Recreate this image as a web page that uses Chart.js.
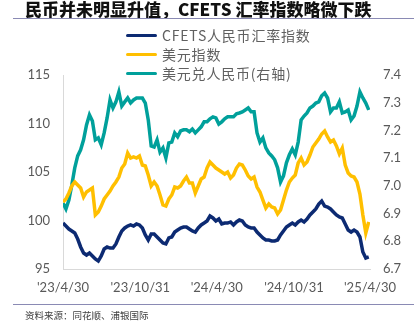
<!DOCTYPE html>
<html>
<head>
<meta charset="utf-8">
<script src="https://cdn.jsdelivr.net/npm/chart.js@4/dist/chart.umd.min.js"></script>
<style>
  html, body { margin: 0; padding: 0; background: #ffffff; }
  #wrap { position: relative; width: 414px; height: 330px; overflow: hidden; background: #fff; }
  #chart { position: absolute; left: 0; top: 0; }
  .title { position: absolute; left: 25px; top: -1px; font-family: "Noto Sans CJK SC", sans-serif; font-weight: 900; font-size: 17px; color: #111; white-space: nowrap; line-height: 20px; }
  .rule { position: absolute; left: 13px; right: 0; height: 1px; background: #8a8ab4; }
  .legend { position: absolute; left: 126px; top: 0; font-family: "Noto Sans CJK SC", sans-serif; font-size: 14px; color: #606060; }
  .legend .row { position: absolute; left: 0; height: 18px; white-space: nowrap; }
  .legend .sw { position: absolute; left: 0; top: 8px; width: 31px; height: 3px; border-radius: 1.5px; }
  .legend .tx { position: absolute; left: 36px; top: 0; line-height: 18px; letter-spacing: 0.8px; }
  .source { position: absolute; left: 25px; top: 308px; font-family: "Noto Sans CJK SC", sans-serif; font-size: 9.5px; color: #404040; white-space: nowrap; line-height: 14px; }
</style>
</head>
<body>
<div id="wrap">
  <canvas id="chart" width="414" height="330"></canvas>
  <div class="title">民币并未明显升值，CFETS 汇率指数略微下跌</div>
  <div class="rule" style="top:18px"></div>
  <div class="legend" id="legend"></div>
  <div class="rule" style="top:304px"></div>
  <div class="source">资料来源：同花顺、浦银国际</div>
</div>
<script>
// Weekly observations starting 2023-04-30 (x = days since start)
const stepDays = 7;

// X-axis tick positions (days since start) and their labels
const tickDays = [0, 184, 366, 550, 731];
const tickLabels = ["'23/4/30", "'23/10/31", "'24/4/30", "'24/10/31", "'25/4/30"];

// Series names
const seriesNames = ["CFETS人民币汇率指数", "美元指数", "美元兑人民币(右轴)"];

// CFETS RMB index (left axis)
const cfets = [
  99.74, 99.43, 99.12, 98.92, 98.71, 98.09, 97.27, 96.65, 96.44, 96.65,
  96.34, 96.03, 95.82, 96.34, 97.06, 97.27, 97.16, 97.16, 97.58, 98.30,
  98.92, 99.23, 99.43, 99.54, 99.43, 99.64, 99.54, 99.23, 98.51, 97.99,
  98.61, 98.61, 98.30, 97.99, 97.68, 97.58, 98.20, 98.30, 98.81, 99.02,
  99.23, 99.33, 99.33, 99.12, 98.92, 98.81, 99.23, 99.54, 99.74, 99.95,
  100.46, 100.26, 99.95, 100.15, 99.64, 99.74, 99.74, 99.85, 99.54, 99.85,
  100.05, 99.95, 99.54, 99.33, 99.23, 99.23, 98.81, 98.51, 98.20, 97.99,
  97.99, 97.89, 97.89, 97.99, 98.51, 98.92, 99.33, 99.54, 99.74, 99.54,
  99.85, 100.05, 99.85, 100.15, 100.57, 100.88, 101.19, 101.70, 102.01, 101.49,
  101.39, 101.19, 100.88, 100.57, 100.36, 100.26, 99.64, 99.02, 98.81, 99.02,
  98.81, 98.30, 96.75, 96.13, 96.24
];

// US dollar index (left axis)
const dxy = [
  101.91, 102.22, 102.84, 103.56, 103.97, 103.66, 103.35, 102.42, 102.94, 103.14,
  103.35, 100.57, 100.88, 101.49, 102.22, 102.63, 103.04, 103.56, 103.97, 104.48,
  105.41, 105.82, 106.96, 106.44, 106.55, 106.44, 106.65, 105.72, 105.62, 104.69,
  103.56, 103.97, 103.56, 102.63, 101.60, 101.49, 102.22, 102.63, 103.45, 103.35,
  103.56, 104.07, 104.48, 103.87, 103.87, 102.84, 103.56, 104.28, 104.48, 105.41,
  106.03, 105.72, 105.41, 105.21, 105.00, 104.79, 105.00, 104.38, 104.69, 105.41,
  105.82, 105.72, 105.21, 104.59, 104.28, 104.48, 103.45, 102.94, 102.11, 101.29,
  101.70, 101.39, 101.29, 100.67, 101.08, 102.11, 103.14, 103.97, 104.38, 104.69,
  105.93, 106.44, 105.72, 106.03, 106.75, 107.58, 107.99, 108.40, 108.92, 109.23,
  108.61, 108.09, 108.30, 107.68, 106.86, 107.47, 105.72, 104.90, 104.59, 104.48,
  103.97, 102.73, 100.57, 98.71, 99.85
];

// USD/CNY (right axis)
const usdcny = [
  6.938, 6.917, 6.949, 7.003, 7.065, 7.108, 7.130, 7.166, 7.220, 7.256,
  7.234, 7.166, 7.173, 7.148, 7.191, 7.245, 7.310, 7.281, 7.303, 7.339,
  7.288, 7.303, 7.317, 7.299, 7.310, 7.317, 7.317, 7.317, 7.299, 7.238,
  7.144, 7.140, 7.166, 7.122, 7.137, 7.101, 7.155, 7.158, 7.191, 7.177,
  7.198, 7.202, 7.202, 7.195, 7.205, 7.191, 7.202, 7.213, 7.231, 7.231,
  7.242, 7.249, 7.245, 7.223, 7.231, 7.242, 7.249, 7.249, 7.249, 7.260,
  7.263, 7.267, 7.274, 7.281, 7.267, 7.267, 7.191, 7.158, 7.173, 7.137,
  7.119, 7.108, 7.094, 7.065, 7.014, 7.036, 7.083, 7.112, 7.133, 7.112,
  7.158, 7.238, 7.252, 7.263, 7.281, 7.288, 7.299, 7.303, 7.325, 7.335,
  7.317, 7.267, 7.281, 7.281, 7.303, 7.263, 7.267, 7.274, 7.238, 7.252,
  7.288, 7.339, 7.317, 7.299, 7.274
];

// Left and right axis tick marks
const leftTicks = [95, 100, 105, 110, 115];
const rightTicks = [6.7, 6.8, 6.9, 7.0, 7.1, 7.2, 7.3, 7.4];

const colors = ["#0c2a72", "#ffbf00", "#00a09b"];

const toPoints = arr => arr.map((v, i) => ({ x: i * stepDays, y: v }));

// Legend rows
const legendEl = document.getElementById('legend');
const legendTops = [26, 44.5, 63.5];
seriesNames.forEach((name, i) => {
  const row = document.createElement('div');
  row.className = 'row';
  row.style.top = legendTops[i] + 'px';
  row.innerHTML = '<span class="sw" style="background:' + colors[i] + '"></span><span class="tx">' + name + '</span>';
  legendEl.appendChild(row);
});

const tickFont = { family: 'Lato, "DejaVu Sans", sans-serif', size: 13 };
const axisGray = '#595959';
const lineGray = '#d9d9d9';

new Chart(document.getElementById('chart'), {
  type: 'line',
  data: {
    datasets: [
      { label: seriesNames[0], data: toPoints(cfets), yAxisID: 'y', borderColor: colors[0], borderWidth: 3.5, pointRadius: 0, tension: 0 },
      { label: seriesNames[1], data: toPoints(dxy), yAxisID: 'y', borderColor: colors[1], borderWidth: 3.5, pointRadius: 0, tension: 0 },
      { label: seriesNames[2], data: toPoints(usdcny), yAxisID: 'y2', borderColor: colors[2], borderWidth: 3.5, pointRadius: 0, tension: 0 }
    ]
  },
  options: {
    responsive: false,
    animation: false,
    layout: { padding: { top: 75, bottom: 31, left: 0, right: 0 } },
    plugins: { legend: { display: false }, tooltip: { enabled: false }, title: { display: false } },
    scales: {
      x: {
        type: 'linear',
        min: 0,
        max: 731,
        grid: { drawOnChartArea: false, drawTicks: false },
        border: { display: true, color: lineGray, width: 1 },
        afterBuildTicks: s => { s.ticks = tickDays.map(v => ({ value: v })); },
        afterFit: s => { s.height = 30; },
        ticks: {
          autoSkip: false, maxRotation: 0, padding: 11, color: axisGray, font: tickFont,
          callback: v => { const k = tickDays.indexOf(v); return k >= 0 ? tickLabels[k] : ''; }
        }
      },
      y: {
        position: 'left',
        min: 95,
        max: 115,
        grid: { drawOnChartArea: false, drawTicks: false },
        border: { display: true, color: lineGray, width: 1 },
        afterBuildTicks: s => { s.ticks = leftTicks.map(v => ({ value: v })); },
        afterFit: s => { s.width = 63; },
        ticks: { padding: 13, color: axisGray, font: tickFont }
      },
      y2: {
        position: 'right',
        min: 6.7,
        max: 7.4,
        grid: { drawOnChartArea: false, drawTicks: false },
        border: { display: false },
        afterBuildTicks: s => { s.ticks = rightTicks.map(v => ({ value: v })); },
        afterFit: s => { s.width = 44; },
        ticks: { padding: 13, color: axisGray, font: tickFont, callback: v => Number(v).toFixed(1) }
      }
    }
  }
});
</script>
</body>
</html>
